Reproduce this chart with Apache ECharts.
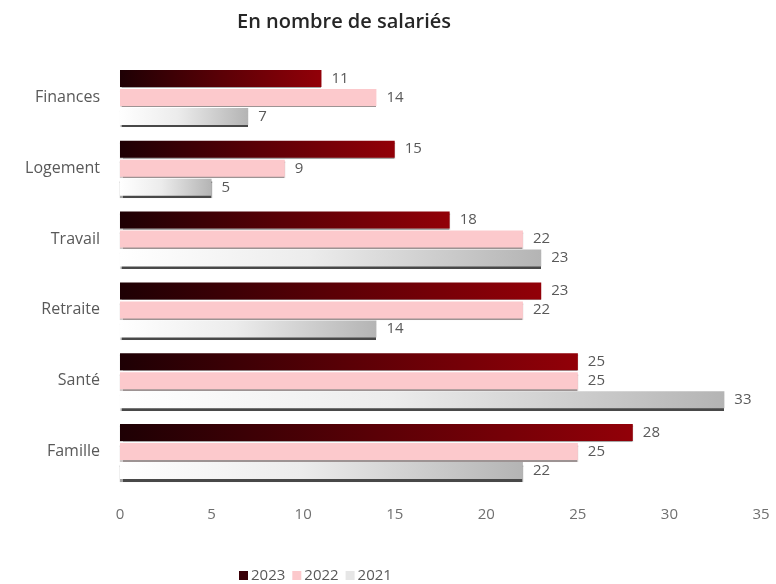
<!DOCTYPE html>
<html>
<head>
<meta charset="utf-8">
<script src="https://cdn.jsdelivr.net/npm/echarts@6/dist/echarts.min.js"></script>
<style>
  html, body { margin: 0; padding: 0; background: #fff; }
  #chart { width: 776px; height: 584px; }
</style>
</head>
<body>
<div id="chart"></div>
<script>
// Categories, top to bottom
const categories = ['Finances', 'Logement', 'Travail', 'Retraite', 'Santé', 'Famille'];
const seriesNames = ['2023', '2022', '2021'];
const values2023 = [11, 15, 18, 23, 25, 28];
const values2022 = [14, 9, 22, 22, 25, 25];
const values2021 = [7, 5, 23, 14, 33, 22];
const xTicks = [0, 5, 10, 15, 20, 25, 30, 35];

const FONT = '"Open Sans", "Noto Sans", sans-serif';
const grad = (stops) => new echarts.graphic.LinearGradient(0, 0, 1, 0,
  stops.map(([o, c]) => ({ offset: o, color: c })));

const styles = [
  {
    color: grad([[0, '#1e0004'], [0.5, '#5a0006'], [1, '#920008']]),
    shadowColor: 'rgba(0,0,0,0.35)', shadowOffsetY: 1, shadowBlur: 1
  },
  {
    color: '#fcc9cc',
    shadowColor: 'rgba(60,40,40,0.5)', shadowOffsetY: 1.5, shadowBlur: 1
  },
  {
    color: grad([[0, '#ffffff'], [0.45, '#ececec'], [1, '#b4b4b4']]),
    shadowColor: 'rgba(40,40,40,0.85)', shadowOffsetY: 2.5, shadowBlur: 1
  }
];
const legendColors = ['#3a0008', '#fcc9cc', '#e6e6e6'];
const allValues = [values2023, values2022, values2021];

const chart = echarts.init(document.getElementById('chart'), null, { renderer: 'canvas' });
chart.setOption({
  backgroundColor: '#ffffff',
  animation: false,
  title: {
    text: 'En nombre de salariés',
    left: 339, top: 7, textAlign: 'center',
    textStyle: { fontFamily: FONT, fontSize: 20, fontWeight: 600, color: '#262626' }
  },
  legend: {
    top: 563, left: 234,
    itemWidth: 9, itemHeight: 9, itemGap: 7,
    icon: 'rect',
    textStyle: { fontFamily: FONT, fontSize: 15, color: '#595959', padding: [0, 0, 0, -2] },
    data: seriesNames.map((n, i) => ({ name: n, itemStyle: { color: legendColors[i] } }))
  },
  grid: { left: 120, right: 15, top: 62, bottom: 97, containLabel: false },
  xAxis: {
    type: 'value', min: xTicks[0], max: xTicks[xTicks.length - 1], interval: 5,
    axisLine: { show: false }, axisTick: { show: false },
    splitLine: { show: false },
    axisLabel: { margin: 20, fontFamily: FONT, fontSize: 15, color: '#707070' }
  },
  yAxis: {
    type: 'category', data: categories, inverse: true,
    axisLine: { show: false }, axisTick: { show: false },
    axisLabel: { margin: 20, fontFamily: FONT, fontSize: 16, color: '#595959' }
  },
  series: seriesNames.map((name, i) => ({
    name, type: 'bar',
    data: allValues[i],
    barWidth: 17, barGap: '12%', barCategoryGap: '22%',
    itemStyle: styles[i],
    label: {
      show: true, position: 'right', distance: 10,
      fontFamily: FONT, fontSize: 15, color: '#595959'
    }
  }))
});
</script>
</body>
</html>
